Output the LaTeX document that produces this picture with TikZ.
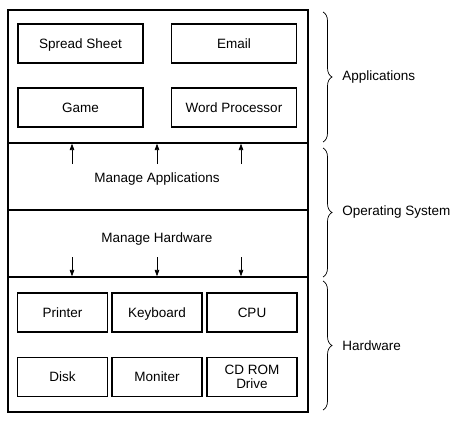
\documentclass[tikz,border=0pt]{standalone}
\usepackage{fontspec}
\setmainfont{Liberation Sans}
\usetikzlibrary{arrows.meta,decorations.pathreplacing}

\begin{document}
\begin{tikzpicture}[x=1pt, y=-1pt,
    layer/.style = {draw, line width=1.2pt, minimum width=300pt, inner sep=0pt},
    box/.style = {draw, line width=1.1pt, minimum height=39pt, inner sep=0pt,
                  align=center, font=\fontsize{13.5}{14}\selectfont},
    oneline/.style = {text height=12pt, text depth=2.3pt},
    appbox/.style = {box, oneline, minimum width=125pt},
    hwbox/.style = {box, oneline, minimum width=90pt},
    txt/.style = {oneline, font=\fontsize{13.5}{14}\selectfont},
    flow/.style = {-{Triangle[length=6.5pt,width=4.5pt]}, line width=0.8pt},
    group/.style = {decorate, decoration={brace,amplitude=9pt}, line width=0.7pt},
    side/.style = {anchor=west, inner sep=0pt, xshift=19pt, font=\fontsize{13.5}{14}\selectfont}]

        \useasboundingbox (0,0) rectangle (460,423);

        % layers
        \node[layer, minimum height=133pt] (apps) at (158,76.5) {};
        \node[layer, minimum height=67pt] (mapps) at (158,176.5) {};
        \node[layer, minimum height=67pt] (mhw) at (158,243.5) {};
        \node[layer, minimum height=135pt] (hw) at (158,344.5) {};

        \node[txt] (mapptxt) at (157,178) {Manage Applications};
        \node[txt] (mhwtxt) at (157,238) {Manage Hardware};

        % applications
        \node[appbox] (spread) at (80.5,43.5) {Spread Sheet};
        \node[appbox] (email) at (234,43.5) {Email};
        \node[appbox] (game) at (80.5,107.5) {Game};
        \node[appbox] (word) at (234,107.5) {Word Processor};

        % hardware
        \node[hwbox] (printer) at (62.5,312.5) {Printer};
        \node[hwbox] (keyboard) at (157,312.5) {Keyboard};
        \node[hwbox] (cpu) at (252,312.5) {CPU};
        \node[hwbox] (disk) at (62.5,377) {Disk};
        \node[hwbox] (monitor) at (157,377) {Moniter};
        \node[box, minimum width=90pt] (cdrom) at (252,377) {CD ROM\\Drive};

        \foreach \x in {72,157,241} {
            \coordinate (up\x) at (\x,164);
            \coordinate (dn\x) at (\x,257);
            \draw[flow] (up\x) -- (up\x |- apps.south);
            \draw[flow] (dn\x) -- (dn\x |- hw.north);
        }

        % braces
        \coordinate (b1) at (323,12);
        \coordinate (b2) at (323,142);
        \coordinate (b3) at (323,148);
        \coordinate (b4) at (323,277);
        \coordinate (b5) at (323,281);
        \coordinate (b6) at (323,410);
        \draw[group] (b1) -- node[side] {Applications} (b2);
        \draw[group] (b3) -- node[side] {Operating System} (b4);
        \draw[group] (b5) -- node[side] {Hardware} (b6);

\end{tikzpicture}
\end{document}
